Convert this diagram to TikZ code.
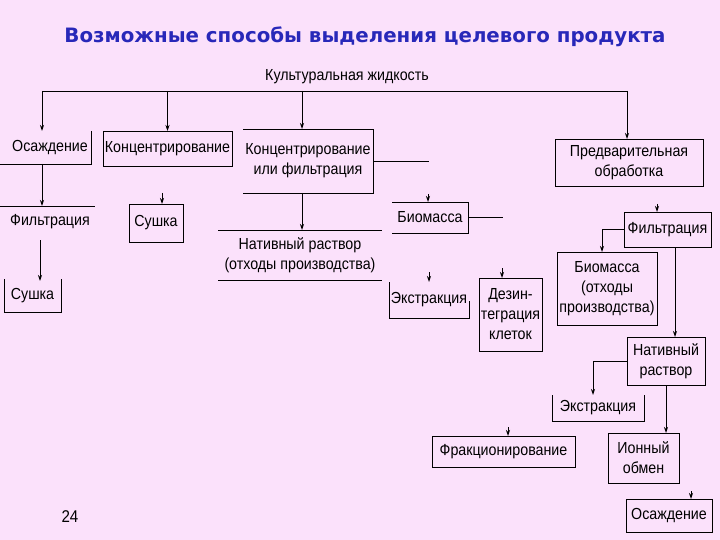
\documentclass[tikz,border=0pt]{standalone}
\usepackage{fontspec}
\setmainfont{Liberation Sans}[FakeStretch=0.89]
\newfontfamily\titlefont{DejaVu Sans}
\usetikzlibrary{arrows.meta,calc}
\definecolor{bgpink}{RGB}{251,225,251}
\definecolor{ttlblue}{RGB}{40,40,185}
\begin{document}
\begin{tikzpicture}[x=1pt,y=-1pt,line width=0.9pt,
  blk/.style={inner sep=0pt,outer sep=0pt,align=center,font=\fontsize{16}{20}\selectfont},
  arr/.style={-{Stealth[length=6pt,width=4pt]}}]
\fill[bgpink] (0,0) rectangle (720,540);
\useasboundingbox (0,0) rectangle (720,540);
\node[font=\titlefont\bfseries\fontsize{19.8}{22}\selectfont,text=ttlblue] (title) at (365,37) {Возможные способы выделения целевого продукта};
\node[blk] (kult) at (347,77) {Культуральная жидкость};
% boxes
\node[blk,minimum width=82,minimum height=33] (osa) at (50,147.5) {Осаждение};
\node[blk,draw,minimum width=129,minimum height=35] (konc) at (167.5,148.5) {Концентрирование};
\node[blk,minimum width=130,minimum height=64] (kf) at (308,161) {Концентрирование\\или фильтрация};
\node[blk,draw,minimum width=148,minimum height=47] (pred) at (629,162.5) {Предварительная\\обработка};
\node[blk,minimum width=90,minimum height=31] (filL) at (50,221.5) {Фильтрация};
\node[blk,minimum width=57,minimum height=33] (sushL) at (32.5,295.5) {Сушка};
\node[blk,draw,minimum width=54,minimum height=38] (sushM) at (156,223) {Сушка};
\node[blk,minimum width=164,minimum height=50] (nat) at (300,255) {Нативный раствор\\(отходы производства)};
\node[blk,minimum width=76,minimum height=31] (bio1) at (430,217.5) {Биомасса};
\node[blk,minimum width=80,minimum height=36] (ext1) at (429,300) {Экстракция};
\node[blk,draw,minimum width=63,minimum height=73] (dez) at (510.5,314.5) {Дезин-\\теграция\\клеток};
\node[blk,draw,minimum width=87,minimum height=35] (filR) at (667.5,229.5) {Фильтрация};
\node[blk,draw,minimum width=100,minimum height=73] (bio2) at (607,288.5) {Биомасса\\(отходы\\производства)};
\node[blk,draw,minimum width=78,minimum height=48] (nat2) at (666,361) {Нативный\\раствор};
\node[blk,minimum width=92,minimum height=26] (ext2) at (598,408) {Экстракция};
\node[blk,draw,minimum width=143,minimum height=31] (frak) at (503.5,451.5) {Фракционирование};
\node[blk,draw,minimum width=71,minimum height=50] (ion) at (643.5,458) {Ионный\\обмен};
\node[blk,draw,minimum width=86,minimum height=33] (osa2) at (669,515.5) {Осаждение};
\node[blk,font=\fontsize{17}{20}\selectfont] (pg) at (70,517) {24};
% partial box edges
\draw (osa.north east) -- (osa.south east) -- ([xshift=-9pt]osa.south west);
\draw (kf.north west) -- (kf.north east) -- (kf.south east) -- (kf.south west);
\draw ([xshift=-5pt]filL.north west) -- (filL.north east);
\draw (sushL.north west) -- (sushL.south west) -- (sushL.south east) -- (sushL.north east);
\draw (nat.north west) -- (nat.north east);
\draw (nat.south west) -- (nat.south east);
\draw (bio1.north west) -- (bio1.north east) -- (bio1.south east) -- (bio1.south west);
\draw (ext1.north west) -- (ext1.south west) -- (ext1.south east) -- ++(0,-17);
\draw (ext2.north west) -- (ext2.south west) -- (ext2.south east) -- (ext2.north east);
% connectors
\coordinate (hL) at (42,91);
\coordinate (hR) at (627,91);
\draw (hL) -- (hR);
\draw[arr] (hL) -- (hL |- osa.north);
\draw[arr] (konc.north |- hL) -- (konc.north);
\draw[arr] ([xshift=-6pt]kf.north |- hL) -- ([xshift=-6pt]kf.north);
\draw[arr] (hR) -- (hR |- pred.north);
\draw[arr] (hL |- osa.south) -- (hL |- filL.north);
\draw[arr] ([xshift=-10pt,yshift=-3pt]filL.south) -- ([xshift=-10pt,yshift=-2pt]filL.south |- sushL.north);
\draw[arr] ([xshift=6pt,yshift=11pt]sushM.north) -- ([xshift=6pt]sushM.north);
\draw[arr] ([xshift=2pt]nat.north |- kf.south) -- ([xshift=2pt]nat.north);
\draw (kf.east) -- ++(56,0);
\draw[arr] ([xshift=-2pt,yshift=8pt]bio1.north) -- ([xshift=-2pt]bio1.north);
\draw (bio1.east) -- ++(35,0);
\draw[arr] ([yshift=10pt]ext1.north) -- (ext1.north);
\draw[arr] ([xshift=-8.5pt,yshift=10pt]dez.north) -- ([xshift=-8.5pt]dez.north);
\draw[arr] ([xshift=-10.5pt,yshift=8pt]filR.north) -- ([xshift=-10.5pt]filR.north);
\draw[arr] (filR.west) -| ([xshift=-5pt]bio2.north);
\draw[arr] ([xshift=9pt]nat2.north |- filR.south) -- ([xshift=9pt]nat2.north);
\draw[arr] (nat2.west) -| ([xshift=-5pt]ext2.north);
\draw[arr] (nat2.south) -- (nat2.south |- ion.north);
\draw[arr] ([xshift=4.5pt,yshift=9pt]frak.north) -- ([xshift=4.5pt]frak.north);
\draw[arr] ([xshift=22pt,yshift=8pt]osa2.north) -- ([xshift=22pt]osa2.north);
\end{tikzpicture}
\end{document}
